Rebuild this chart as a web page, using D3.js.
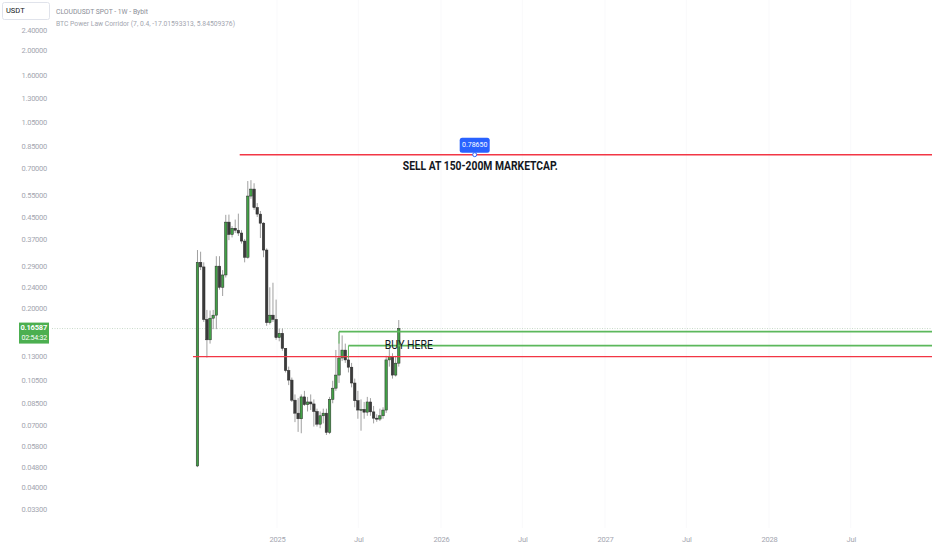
<!DOCTYPE html>
<html>
<head>
<meta charset="utf-8">
<script src="https://cdn.jsdelivr.net/npm/d3@7"></script>
<style>
body { margin: 0; background: #fff; }
text { font-family: Roboto, "Noto Sans", sans-serif; }
</style>
</head>
<body>
<div id="chart"></div>
<script>
// weekly candles, first week starts here
const firstWeek = "2024-07-08";
const opens  = [0.0485,0.300,0.288,0.180,0.150,0.182,0.187,0.290,0.240,0.268,0.430,0.385,0.407,0.400,0.390,0.363,0.314,0.543,0.578,0.490,0.462,0.426,0.335,0.175,0.187,0.180,0.153,0.159,0.139,0.114,0.1046,0.0874,0.0778,0.0740,0.0900,0.0840,0.0860,0.0845,0.0790,0.0705,0.0760,0.0778,0.0655,0.0880,0.0973,0.1094,0.1275,0.1368,0.1253,0.1174,0.1019,0.0870,0.0800,0.0805,0.0785,0.0860,0.0787,0.0744,0.0738,0.0760,0.0800,0.1253,0.1290,0.1094,0.1217];
const highs  = [0.335,0.330,0.300,0.196,0.195,0.196,0.317,0.317,0.280,0.459,0.460,0.415,0.440,0.464,0.400,0.370,0.621,0.626,0.609,0.510,0.475,0.430,0.340,0.240,0.250,0.215,0.166,0.166,0.139,0.118,0.107,0.092,0.089,0.092,0.095,0.090,0.092,0.088,0.081,0.079,0.081,0.081,0.090,0.104,0.137,0.161,0.156,0.145,0.130,0.122,0.106,0.095,0.088,0.086,0.090,0.089,0.083,0.077,0.081,0.082,0.130,0.138,0.133,0.130,0.179];
const lows   = [0.048,0.280,0.176,0.128,0.145,0.165,0.165,0.235,0.222,0.262,0.366,0.375,0.390,0.380,0.355,0.300,0.310,0.530,0.480,0.450,0.373,0.314,0.170,0.172,0.176,0.150,0.148,0.136,0.112,0.100,0.086,0.0718,0.0658,0.0650,0.083,0.079,0.080,0.069,0.0690,0.068,0.071,0.0640,0.0645,0.085,0.095,0.102,0.124,0.122,0.112,0.098,0.082,0.074,0.0665,0.074,0.076,0.076,0.071,0.072,0.0725,0.074,0.078,0.118,0.106,0.108,0.118];
const closes = [0.300,0.288,0.180,0.150,0.182,0.187,0.290,0.240,0.268,0.430,0.385,0.407,0.400,0.390,0.363,0.314,0.543,0.578,0.490,0.462,0.426,0.335,0.175,0.187,0.180,0.153,0.159,0.139,0.114,0.1046,0.0874,0.0778,0.0740,0.0900,0.0840,0.0860,0.0845,0.0790,0.0705,0.0760,0.0778,0.0655,0.0880,0.0973,0.1094,0.1275,0.1368,0.1253,0.1174,0.1019,0.0870,0.0800,0.0805,0.0785,0.0860,0.0787,0.0744,0.0738,0.0760,0.0800,0.1253,0.1290,0.1094,0.1217,0.16587];

const priceTicks = [2.4, 2.0, 1.6, 1.3, 1.05, 0.85, 0.7, 0.55, 0.45, 0.37, 0.29, 0.24, 0.2, 0.13, 0.105, 0.085, 0.07, 0.058, 0.048, 0.04, 0.033];
const timeTicks = ["2025-01-01","2025-07-01","2026-01-01","2026-07-01","2027-01-01","2027-07-01","2028-01-01","2028-07-01"];
const timeTickLabels = ["2025","Jul","2026","Jul","2027","Jul","2028","Jul"];

const lastPrice = 0.16587;
const countdown = "02:54:32";
const sellLevel = 0.7865, sellFrom = "2024-10-10";
const buyLevel = 0.129, buyFrom = "2024-06-28";
const zoneLines = [{price: 0.1614, from: "2025-05-19"}, {price: 0.1424, from: "2025-06-09"}];

const W = 932, H = 550;
const axisW = 52;
const parse = d3.timeParse("%Y-%m-%d");

const svg = d3.select("#chart").append("svg").attr("width", W).attr("height", H);

const x = d3.scaleTime()
	.domain([parse("2025-01-01"), parse("2026-01-01")])
	.range([277, 441]);
const y = d3.scaleLog()
	.domain([0.033, 2.4])
	.range([509, 30]);

const start = parse(firstWeek);
const candles = closes.map((c, i) => ({
	date: d3.timeWeek.offset(start, i),
	open: opens[i], high: highs[i], low: lows[i], close: c
}));

// very faint vertical grid
svg.append("g")
	.selectAll("line")
	.data(timeTicks)
	.join("line")
	.attr("x1", d => x(parse(d))).attr("x2", d => x(parse(d)))
	.attr("y1", 0).attr("y2", 528)
	.attr("stroke", "#f9f9fb");

const plot = svg.append("g");

// current price line
plot.append("line")
	.attr("x1", axisW).attr("x2", W)
	.attr("y1", y(lastPrice)).attr("y2", y(lastPrice))
	.attr("stroke", "#c8d9c9")
	.attr("stroke-dasharray", "1,1.5");

// candles
const bw = 2.5;
const cg = plot.append("g");
cg.selectAll(".wick")
	.data(candles)
	.join("line")
	.attr("class", "wick")
	.attr("x1", d => x(d.date)).attr("x2", d => x(d.date))
	.attr("y1", d => y(d.high)).attr("y2", d => y(d.low))
	.attr("stroke", "#a0a0a0")
	.attr("stroke-width", 1);
cg.selectAll(".body")
	.data(candles)
	.join("rect")
	.attr("class", "body")
	.attr("x", d => x(d.date) - bw / 2)
	.attr("width", bw)
	.attr("y", d => y(Math.max(d.open, d.close)))
	.attr("height", d => Math.max(1, Math.abs(y(d.open) - y(d.close))))
	.attr("fill", d => d.close >= d.open ? "#43a047" : "#3b3b3b")
	.attr("stroke", "#2a2a2a")
	.attr("stroke-width", 0.5);

// sell level
plot.append("line")
	.attr("x1", x(parse(sellFrom))).attr("x2", W)
	.attr("y1", y(sellLevel)).attr("y2", y(sellLevel))
	.attr("stroke", "#f23645").attr("stroke-width", 1.5);

// buy level
plot.append("line")
	.attr("x1", x(parse(buyFrom))).attr("x2", W)
	.attr("y1", y(buyLevel)).attr("y2", y(buyLevel))
	.attr("stroke", "#f23645").attr("stroke-width", 1.3);

// green zone rays
zoneLines.forEach(z => {
	plot.append("line")
		.attr("x1", x(parse(z.from))).attr("x2", W)
		.attr("y1", y(z.price)).attr("y2", y(z.price))
		.attr("stroke", "#5cb85c").attr("stroke-width", 1.8);
	plot.append("line")
		.attr("x1", x(parse(z.from))).attr("x2", x(parse(z.from)))
		.attr("y1", y(z.price)).attr("y2", y(z.price) + 12)
		.attr("stroke", "#5cb85c").attr("stroke-width", 1);
});

// sell label
const labelX = x(parse("2026-03-17"));
const labelY = y(sellLevel);
plot.append("rect")
	.attr("x", labelX - 15).attr("y", labelY - 17)
	.attr("width", 30).attr("height", 15)
	.attr("rx", 2.5)
	.attr("fill", "#2962ff");
plot.append("text")
	.attr("x", labelX).attr("y", labelY - 9.5)
	.attr("text-anchor", "middle")
	.attr("dominant-baseline", "middle")
	.attr("fill", "#fff")
	.attr("font-size", 7)
	.text(sellLevel.toFixed(5));
plot.append("circle")
	.attr("cx", labelX).attr("cy", labelY)
	.attr("r", 2)
	.attr("fill", "#fff").attr("stroke", "#2962ff").attr("stroke-width", 1);

plot.append("text")
	.attr("x", x(parse("2025-10-08"))).attr("y", y(0.705))
	.attr("dominant-baseline", "middle")
	.attr("font-family", "'Liberation Sans Narrow', 'DejaVu Sans Condensed', sans-serif")
	.attr("font-weight", "bold")
	.attr("font-size", 13)
	.attr("fill", "#131722")
	.attr("textLength", 155)
	.attr("lengthAdjust", "spacingAndGlyphs")
	.text("SELL AT 150-200M MARKETCAP.");

plot.append("text")
	.attr("x", x(parse("2025-08-29"))).attr("y", y(0.1427))
	.attr("dominant-baseline", "middle")
	.attr("font-family", "'Liberation Sans Narrow', 'DejaVu Sans Condensed', sans-serif")
	.attr("font-size", 13)
	.attr("fill", "#131722")
	.attr("textLength", 48)
	.attr("lengthAdjust", "spacingAndGlyphs")
	.text("BUY HERE");

// price axis (left)
const yAxis = svg.append("g")
	.attr("transform", `translate(${axisW - 5},0)`)
	.call(d3.axisLeft(y).tickValues(priceTicks).tickFormat(d3.format(".5f")).tickSize(0).tickPadding(0))
	.call(g => g.select(".domain").remove());
yAxis.selectAll("text")
	.attr("fill", "#a3a6af")
	.attr("font-size", 7.5)
	.attr("letter-spacing", -0.25)
	.attr("font-family", "Roboto, sans-serif");

// last price tag
const tagY = y(lastPrice);
svg.append("rect")
	.attr("x", 19).attr("y", tagY - 6)
	.attr("width", 30).attr("height", 21)
	.attr("fill", "#4caf50");
svg.append("text")
	.attr("x", 47).attr("y", tagY + 1)
	.attr("text-anchor", "end")
	.attr("fill", "#fff")
	.attr("font-size", 7.5).attr("font-weight", "bold")
	.attr("letter-spacing", -0.2)
	.text(lastPrice.toFixed(5));
svg.append("text")
	.attr("x", 47).attr("y", tagY + 11)
	.attr("text-anchor", "end")
	.attr("fill", "#fff")
	.attr("font-size", 7)
	.attr("letter-spacing", -0.2)
	.text(countdown);

// time axis (bottom)
const xAxis = svg.append("g")
	.attr("transform", "translate(0,537)")
	.call(d3.axisBottom(x).tickValues(timeTicks.map(parse)).tickFormat((d, i) => timeTickLabels[i]).tickSize(0).tickPadding(0))
	.call(g => g.select(".domain").remove());
xAxis.selectAll("text")
	.attr("fill", "#a3a6af")
	.attr("font-size", 7.5)
	.attr("letter-spacing", -0.2);

// header
svg.append("rect")
	.attr("x", 2.5).attr("y", 2.5)
	.attr("width", 47).attr("height", 17)
	.attr("rx", 2)
	.attr("fill", "#fff")
	.attr("stroke", "#e0e3eb");
svg.append("text")
	.attr("x", 6).attr("y", 11.5)
	.attr("dominant-baseline", "middle")
	.attr("font-size", 7.5)
	.attr("fill", "#131722")
	.text("USDT");
svg.append("text")
	.attr("x", 56).attr("y", 11.5)
	.attr("dominant-baseline", "middle")
	.attr("font-size", 8)
	.attr("fill", "#8a8d96")
	.attr("textLength", 92)
	.attr("lengthAdjust", "spacingAndGlyphs")
	.text("CLOUDUSDT SPOT - 1W - Bybit");
svg.append("text")
	.attr("x", 56).attr("y", 23.5)
	.attr("dominant-baseline", "middle")
	.attr("font-size", 8)
	.attr("fill", "#a3a6af")
	.attr("textLength", 179)
	.attr("lengthAdjust", "spacingAndGlyphs")
	.text("BTC Power Law Corridor (7, 0.4, -17.01593313, 5.84509376)");
</script>
</body>
</html>
